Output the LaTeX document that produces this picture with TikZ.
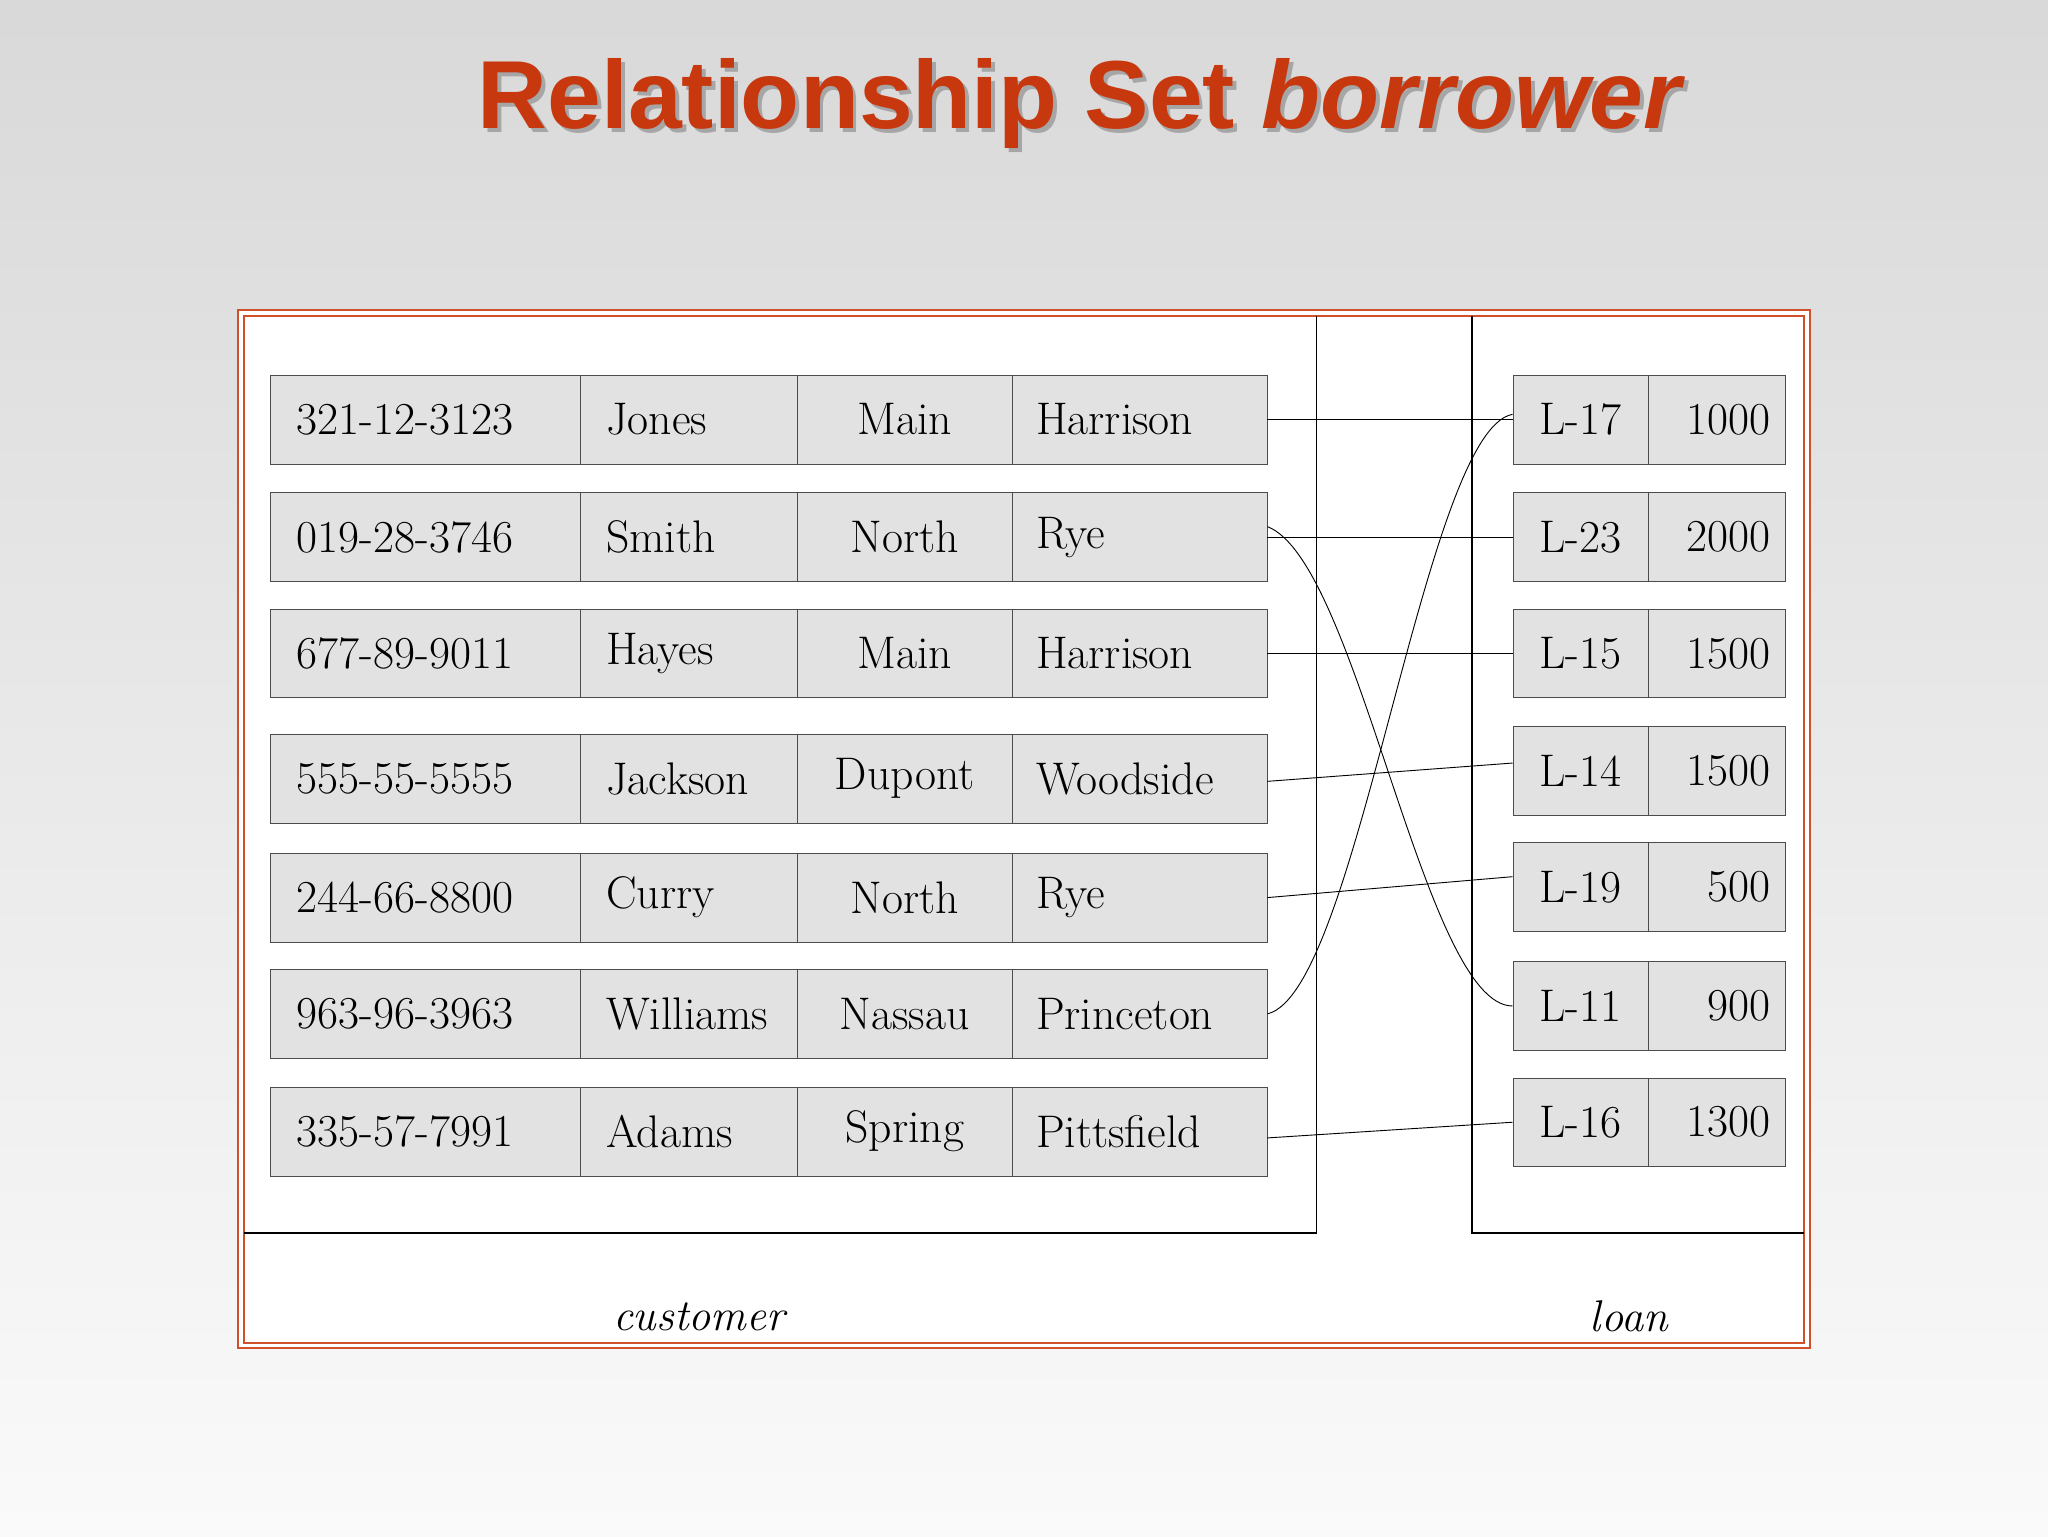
\documentclass[tikz,border=0pt]{standalone}
\usepackage{fontspec}
\newfontfamily\titlefont{Liberation Sans}
\definecolor{titlered}{HTML}{C8380F}
\definecolor{framered}{HTML}{D0502A}
\definecolor{cellgray}{HTML}{E2E2E2}
\begin{document}
\begin{tikzpicture}[x=1pt,y=-1pt,
  cell/.style={draw=black!70,fill=cellgray,anchor=north west,minimum height=68,inner ysep=0,
    font=\fontsize{35}{40}\selectfont},
  link/.style={draw=black,line width=0.7},
  lab/.style={font=\itshape\fontsize{34}{40}\selectfont}]
\useasboundingbox (0,0) rectangle (1568,1176);
\shade[top color=black!15,bottom color=black!2] (0,0) rectangle (1568,1176);
% title
\node[text=black!35,font=\titlefont\bfseries\fontsize{74}{80}\selectfont] (titleshadow) at (831,82) {Relationship Set \textit{borrower}};
\node[text=titlered,font=\titlefont\bfseries\fontsize{74}{80}\selectfont] (title) at (828,79) {Relationship Set \textit{borrower}};
% frame
\draw[framered,line width=1.5,fill=white] (182,237) rectangle (1386,1032);
\draw[framered,line width=1.5] (187,242) rectangle (1381,1028);
\draw[black,line width=0.8] (1008,242) -- (1008,944) -- (187,944);
\draw[black,line width=0.8] (1127,242) -- (1127,944) -- (1381,944);
% customer rows
\foreach \i/\y/\a/\b/\c/\d in {1/287/321-12-3123/Jones/Main/Harrison,
  2/377/019-28-3746/Smith/North/Rye,
  3/466/677-89-9011/Hayes/Main/Harrison,
  4/562/555-55-5555/Jackson/Dupont/Woodside,
  5/653/244-66-8800/Curry/North/Rye,
  6/742/963-96-3963/Williams/Nassau/Princeton,
  7/832/335-57-7991/Adams/Spring/Pittsfield}{
  \node[cell,minimum width=237,text width=197,inner xsep=20,align=left] (ca\i) at (207,\y) {\a};
  \node[cell,minimum width=166,text width=146,inner xsep=10,align=left] (cb\i) at (444,\y) {\hspace*{10pt}\b};
  \node[cell,minimum width=165,text width=155,inner xsep=5,align=center] (cc\i) at (610,\y) {\c};
  \node[cell,minimum width=195,text width=185,inner xsep=5,align=left] (cd\i) at (775,\y) {\hspace*{13pt}\d};
}
% loan rows
\foreach \i/\y/\a/\b in {1/287/L-17/1000,2/377/L-23/2000,3/466/L-15/1500,4/556/L-14/1500,
  5/645/L-19/500,6/736/L-11/900,7/825/L-16/1300}{
  \node[cell,minimum width=104,text width=86,inner xsep=9,align=center] (la\i) at (1158,\y) {\a};
  \node[cell,minimum width=105,text width=81,inner xsep=12,align=right] (lb\i) at (1262,\y) {\b};
}
% connectors
\draw[link] (cd1.east) -- (la1.west);
\draw[link] (cd2.east) -- (la2.west);
\draw[link] (cd3.east) -- (la3.west);
\draw[link] ([yshift=-2]cd4.east) -- ([yshift=6]la4.west);
\draw[link] (cd5.east) -- ([yshift=8]la5.west);
\draw[link] ([yshift=-5]cd7.east) -- (la7.west);
\draw[link] ([yshift=8]cd2.east) .. controls (1040,430) and (1090,770) .. ([yshift=0]la6.west);
\draw[link] (cd6.east) .. controls (1040,760) and (1090,330) .. ([yshift=4]la1.west);
% labels
\node[lab] (custlab) at (535,1008) {customer};
\node[lab] (loanlab) at (1247,1008) {loan};
\end{tikzpicture}
\end{document}
